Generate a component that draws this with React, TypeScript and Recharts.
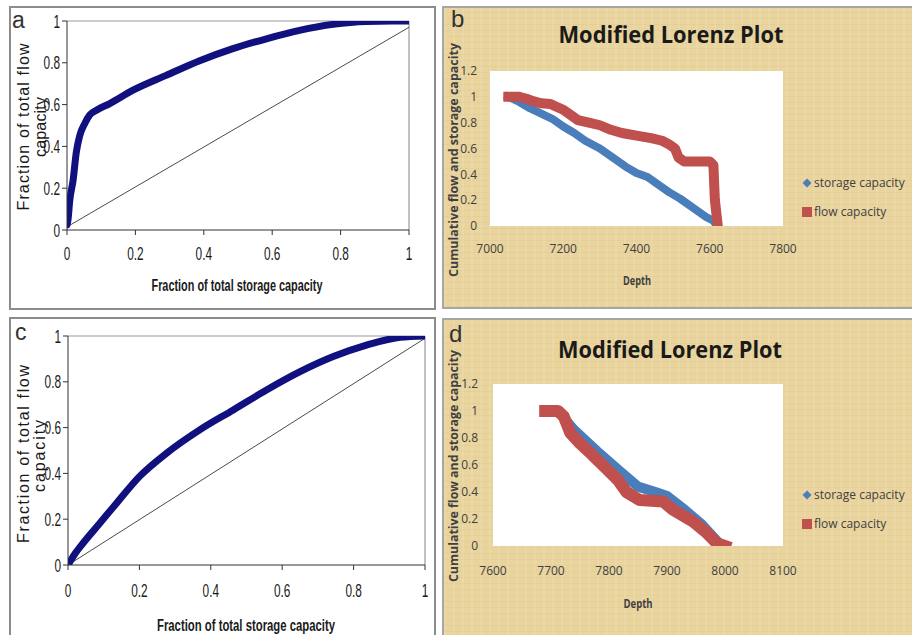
import React from 'react';
import { ComposedChart, Line, XAxis, YAxis, ReferenceLine, CartesianGrid, Legend } from 'recharts';

// ---------- Panel a: Lorenz plot (fraction of storage vs flow) ----------
const storageFracA = [0, 0.003, 0.008, 0.018, 0.027, 0.037, 0.052, 0.066, 0.086, 0.125, 0.193, 0.29, 0.388, 0.485, 0.583, 0.68, 0.778, 0.875, 0.95, 1.0];
const flowFracA = [0.025, 0.05, 0.14, 0.24, 0.37, 0.45, 0.51, 0.55, 0.573, 0.605, 0.669, 0.74, 0.81, 0.868, 0.915, 0.955, 0.984, 0.998, 1.0, 1.0];
const equalityA = [{ x: 0, y: 0.015 }, { x: 1, y: 0.97 }];

// ---------- Panel c ----------
const storageFracC = [0, 0.02, 0.042, 0.089, 0.136, 0.2, 0.276, 0.369, 0.463, 0.556, 0.65, 0.743, 0.836, 0.93, 1.0];
const flowFracC = [0, 0.05, 0.095, 0.182, 0.27, 0.386, 0.488, 0.59, 0.677, 0.764, 0.844, 0.91, 0.96, 0.994, 1.0];
const equalityC = [{ x: 0, y: 0 }, { x: 1, y: 0.99 }];

const fracTicks = [0, 0.2, 0.4, 0.6, 0.8, 1];

// ---------- Panel b: Modified Lorenz plot ----------
const storageDepthB = [7050, 7080, 7110, 7140, 7170, 7200, 7230, 7260, 7300, 7340, 7370, 7400, 7430, 7460, 7490, 7520, 7560, 7590, 7610, 7620];
const storageCapB = [1.0, 0.96, 0.91, 0.87, 0.83, 0.77, 0.72, 0.66, 0.6, 0.52, 0.46, 0.41, 0.38, 0.32, 0.26, 0.21, 0.13, 0.07, 0.04, 0.0];
const flowDepthB = [7050, 7080, 7100, 7120, 7140, 7165, 7180, 7200, 7220, 7240, 7270, 7300, 7330, 7360, 7400, 7440, 7470, 7490, 7505, 7515, 7530, 7600, 7610, 7614, 7620, 7622];
const flowCapB = [1.0, 1.0, 0.985, 0.965, 0.95, 0.945, 0.925, 0.9, 0.86, 0.82, 0.8, 0.78, 0.745, 0.72, 0.7, 0.68, 0.66, 0.63, 0.6, 0.53, 0.5, 0.5, 0.47, 0.2, 0.05, 0.0];
const depthTicksB = [7000, 7200, 7400, 7600, 7800];

// ---------- Panel d ----------
const storageDepthD = [7690, 7712, 7740, 7780, 7820, 7850, 7880, 7900, 7930, 7960, 7990, 8000];
const storageCapD = [1.0, 1.0, 0.86, 0.7, 0.55, 0.44, 0.4, 0.37, 0.27, 0.16, 0.02, 0.0];
const flowDepthD = [7690, 7712, 7722, 7733, 7750, 7770, 7796, 7815, 7830, 7853, 7893, 7910, 7945, 7968, 7986, 8000];
const flowCapD = [1.0, 1.0, 0.96, 0.84, 0.76, 0.68, 0.57, 0.49, 0.4, 0.34, 0.33, 0.27, 0.18, 0.1, 0.02, 0.0];
const depthTicksD = [7600, 7700, 7800, 7900, 8000, 8100];

const capTicks = [0, 0.2, 0.4, 0.6, 0.8, 1, 1.2];
const seriesNames = ['storage capacity', 'flow capacity'];

const zip = (xs: number[], ys: number[]) => xs.map((x, i) => ({ x, y: ys[i] }));

const curveA = zip(storageFracA, flowFracA);
const curveC = zip(storageFracC, flowFracC);
const storageB = zip(storageDepthB, storageCapB);
const flowB = zip(flowDepthB, flowCapB);
const storageD = zip(storageDepthD, storageCapD);
const flowD = zip(flowDepthD, flowCapD);

const ARIAL = '"Liberation Sans", Arial, sans-serif';
const SANS = '"Open Sans", "Noto Sans", sans-serif';
const NAVY = '#10107e';
const BLUE = '#4a7ebb';
const RED = '#c0504d';
const TAN = '#e9d49e';

const CondensedXTick = (props: any) => {
  const { x, y, payload } = props;
  return (
    <g transform={`translate(${x},${y})`}>
      <text transform="scale(0.64,1)" textAnchor="middle" dy="0.71em" fontSize={18.5} fontFamily={ARIAL} fill="#1a1a1a">
        {payload.value}
      </text>
    </g>
  );
};

const CondensedYTick = (props: any) => {
  const { x, y, payload } = props;
  return (
    <g transform={`translate(${x},${y})`}>
      <text transform="scale(0.64,1)" textAnchor="end" dy="0.355em" fontSize={18.5} fontFamily={ARIAL} fill="#1a1a1a">
        {payload.value}
      </text>
    </g>
  );
};

const LorenzLegend = (props: any) => {
  const items = [...(props.payload || [])].sort(
    (p: any, q: any) => seriesNames.indexOf(p.value) - seriesNames.indexOf(q.value)
  );
  return (
    <div style={{ fontFamily: SANS, fontSize: 12, color: '#404040', lineHeight: '20px' }}>
      {items.map((entry: any, i: number) => (
        <div key={i} style={{ display: 'flex', alignItems: 'center', height: 20, marginBottom: i === 0 ? 9 : 0 }}>
          <svg width={12} height={12} style={{ marginRight: 1 }}>
            {entry.type === 'diamond' ? (
              <path d="M6,1.5 L10.5,6 L6,10.5 L1.5,6 Z" fill={entry.color} />
            ) : (
              <rect x={1} y={1} width={10} height={10} fill={entry.color} />
            )}
          </svg>
          <span>{entry.value}</span>
        </div>
      ))}
    </div>
  );
};

const FractionChart = ({ data, equality, width, height, margin, tickMargin }: any) => (
  <ComposedChart width={width} height={height} margin={margin}>
    <XAxis
      type="number"
      dataKey="x"
      domain={[0, 1]}
      ticks={fracTicks}
      tick={<CondensedXTick />}
      tickSize={5}
      tickMargin={tickMargin}
      stroke="#333"
      height={30}
      allowDataOverflow
    />
    <YAxis
      type="number"
      domain={[0, 1]}
      ticks={fracTicks}
      tick={<CondensedYTick />}
      tickSize={5}
      tickMargin={2}
      stroke="#333"
      width={45}
      allowDataOverflow
    />
    <ReferenceLine y={1} stroke="#9a9a9a" strokeWidth={1.2} />
    <ReferenceLine x={1} stroke="#9a9a9a" strokeWidth={1.2} />
    <ReferenceLine segment={equality} stroke="#4a4a4a" strokeWidth={1} />
    <Line
      data={data}
      dataKey="y"
      type="monotone"
      stroke={NAVY}
      strokeWidth={7}
      strokeLinecap="round"
      dot={false}
      isAnimationActive={false}
    />
  </ComposedChart>
);

const DepthChart = ({ storage, flow, ticks, domain, width, height, margin, xTickMargin, yTickMargin, legendTop, blueWidth, redWidth }: any) => (
  <ComposedChart width={width} height={height} margin={margin}>
    <CartesianGrid fill="#ffffff" horizontal={false} vertical={false} />
    <XAxis
      type="number"
      dataKey="x"
      domain={domain}
      ticks={ticks}
      axisLine={false}
      tickLine={false}
      tickMargin={xTickMargin}
      height={40}
      tick={{ fill: '#404040', fontSize: 12, fontFamily: SANS }}
      allowDataOverflow
    />
    <YAxis
      type="number"
      domain={[0, 1.2]}
      ticks={capTicks}
      axisLine={false}
      tickLine={false}
      tickMargin={yTickMargin}
      width={40}
      tick={{ fill: '#404040', fontSize: 12, fontFamily: SANS }}
      allowDataOverflow
    />
    <Line
      data={storage}
      dataKey="y"
      name={seriesNames[0]}
      legendType="diamond"
      stroke={BLUE}
      strokeWidth={blueWidth}
      strokeLinejoin="round"
      strokeLinecap="square"
      dot={false}
      isAnimationActive={false}
    />
    <Line
      data={flow}
      dataKey="y"
      name={seriesNames[1]}
      legendType="square"
      stroke={RED}
      strokeWidth={redWidth}
      strokeLinejoin="round"
      strokeLinecap="square"
      dot={false}
      isAnimationActive={false}
    />
    <Legend
      content={<LorenzLegend />}
      layout="vertical"
      align="center"
      verticalAlign="middle"
      wrapperStyle={{ left: 358, top: legendTop, width: 111 }}
    />
  </ComposedChart>
);

const box = (left: number, top: number, width: number, height: number, color: string, bg: string): React.CSSProperties => ({
  position: 'absolute',
  left,
  top,
  width,
  height,
  border: `2px solid ${color}`,
  boxSizing: 'border-box',
  background: bg,
});

const parchment = `repeating-linear-gradient(90deg, rgba(255,255,255,0.10) 0px, rgba(255,255,255,0.10) 2px, rgba(0,0,0,0) 2px, rgba(0,0,0,0) 9px), repeating-linear-gradient(0deg, rgba(160,120,40,0.06) 0px, rgba(160,120,40,0.06) 1px, rgba(0,0,0,0) 1px, rgba(0,0,0,0) 6px), ${TAN}`;

export default function App() {
  return (
    <div style={{ position: 'absolute', left: 0, top: 0, width: 912, height: 635, overflow: 'hidden', background: '#fff' }}>
      {/* panel frames */}
      <div style={box(9, 6, 427, 304, '#8c8c8c', '#fff')} />
      <div style={box(9, 317, 427, 322, '#8c8c8c', '#fff')} />
      <div style={{ ...box(442, 6, 480, 303, '#a6a6a6', TAN), background: parchment }} />
      <div style={{ ...box(442, 318, 480, 322, '#a6a6a6', TAN), background: parchment }} />

      {/* charts */}
      <div style={{ position: 'absolute', left: 10, top: 7 }}>
        <FractionChart data={curveA} equality={equalityA} width={425} height={302} margin={{ top: 14, right: 26, bottom: 49, left: 12 }} tickMargin={12} />
      </div>
      <div style={{ position: 'absolute', left: 10, top: 318 }}>
        <FractionChart data={curveC} equality={equalityC} width={425} height={317} margin={{ top: 18, right: 10, bottom: 40, left: 13 }} tickMargin={14} />
      </div>
      <div style={{ position: 'absolute', left: 443, top: 7 }}>
        <DepthChart
          storage={storageB}
          flow={flowB}
          ticks={depthTicksB}
          domain={[7000, 7800]}
          width={469}
          height={301}
          margin={{ top: 64, right: 129, bottom: 42, left: 7 }}
          xTickMargin={12}
          yTickMargin={7}
          legendTop={166}
          blueWidth={8}
          redWidth={10}
        />
      </div>
      <div style={{ position: 'absolute', left: 443, top: 319 }}>
        <DepthChart
          storage={storageD}
          flow={flowD}
          ticks={depthTicksD}
          domain={[7600, 8100]}
          width={469}
          height={316}
          margin={{ top: 65, right: 129, bottom: 49, left: 10 }}
          xTickMargin={14}
          yTickMargin={9}
          legendTop={166}
          blueWidth={10}
          redWidth={12}
        />
      </div>

      {/* text overlay */}
      <svg width={912} height={635} style={{ position: 'absolute', left: 0, top: 0, pointerEvents: 'none' }}>
        {/* panel a */}
        <text x={12} y={28} fontSize={23} fontFamily={ARIAL} fill="#333">a</text>
        <text x={23} y={127} transform="rotate(-90 23 127)" textAnchor="middle" dominantBaseline="central" fontSize={16} fontFamily={ARIAL} fill="#1a1a1a" textLength={167} lengthAdjust="spacing">Fraction of total flow</text>
        <text x={40} y={127} transform="rotate(-90 40 127)" textAnchor="middle" dominantBaseline="central" fontSize={16} fontFamily={ARIAL} fill="#1a1a1a" textLength={60} lengthAdjust="spacing">capacity</text>
        <text x={237} y={285} textAnchor="middle" dominantBaseline="central" fontSize={16} fontWeight="bold" fontFamily={ARIAL} fill="#1a1a1a" textLength={171} lengthAdjust="spacingAndGlyphs">Fraction of total storage capacity</text>

        {/* panel c */}
        <text x={15} y={340} fontSize={23} fontFamily={ARIAL} fill="#333">c</text>
        <text x={23} y={454} transform="rotate(-90 23 454)" textAnchor="middle" dominantBaseline="central" fontSize={16} fontFamily={ARIAL} fill="#1a1a1a" textLength={178} lengthAdjust="spacing">Fraction of total flow</text>
        <text x={39} y={456} transform="rotate(-90 39 456)" textAnchor="middle" dominantBaseline="central" fontSize={16} fontFamily={ARIAL} fill="#1a1a1a" textLength={72} lengthAdjust="spacing">capacity</text>
        <text x={246} y={625} textAnchor="middle" dominantBaseline="central" fontSize={16} fontWeight="bold" fontFamily={ARIAL} fill="#1a1a1a" textLength={178} lengthAdjust="spacingAndGlyphs">Fraction of total storage capacity</text>

        {/* panel b */}
        <text x={451} y={27} fontSize={24} fontFamily={ARIAL} fill="#333">b</text>
        <text x={671} y={33} textAnchor="middle" dominantBaseline="central" fontSize={24} fontWeight="bold" fontFamily={SANS} fill="#1a1a1a" textLength={225} lengthAdjust="spacingAndGlyphs">Modified Lorenz Plot</text>
        <text x={453} y={160} transform="rotate(-90 453 160)" textAnchor="middle" dominantBaseline="central" fontSize={12} fontWeight="bold" fontFamily={SANS} fill="#404040" textLength={234} lengthAdjust="spacingAndGlyphs">Cumulative flow and storage capacity</text>
        <text x={637} y={280} textAnchor="middle" dominantBaseline="central" fontSize={12} fontWeight="bold" fontFamily={SANS} fill="#404040" textLength={28} lengthAdjust="spacingAndGlyphs">Depth</text>

        {/* panel d */}
        <text x={449} y={342} fontSize={24} fontFamily={ARIAL} fill="#333">d</text>
        <text x={670} y={348} textAnchor="middle" dominantBaseline="central" fontSize={24} fontWeight="bold" fontFamily={SANS} fill="#1a1a1a" textLength={224} lengthAdjust="spacingAndGlyphs">Modified Lorenz Plot</text>
        <text x={453} y={466} transform="rotate(-90 453 466)" textAnchor="middle" dominantBaseline="central" fontSize={12} fontWeight="bold" fontFamily={SANS} fill="#404040" textLength={232} lengthAdjust="spacingAndGlyphs">Cumulative flow and storage capacity</text>
        <text x={638} y={603} textAnchor="middle" dominantBaseline="central" fontSize={12} fontWeight="bold" fontFamily={SANS} fill="#404040" textLength={29} lengthAdjust="spacingAndGlyphs">Depth</text>
      </svg>
    </div>
  );
}
